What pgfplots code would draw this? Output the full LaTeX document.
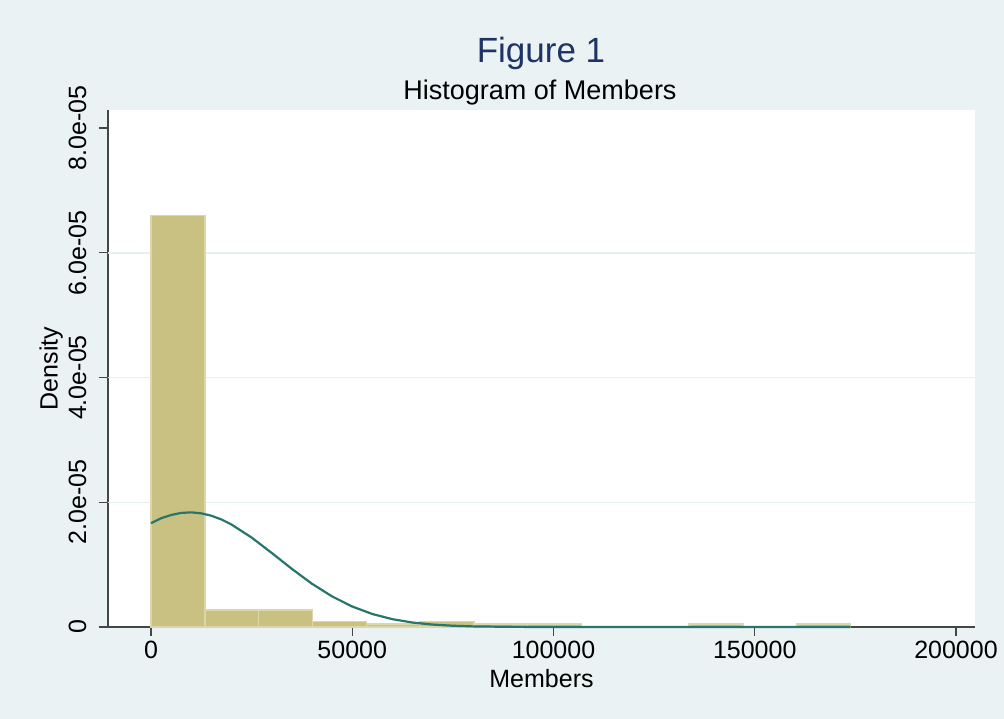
\documentclass[border=0pt]{standalone}
\usepackage{fontspec}
\setmainfont{Liberation Sans}
\usepackage{pgfplots}
\pgfplotsset{compat=1.18}
\definecolor{bgc}{RGB}{234,242,243}
\definecolor{barfill}{RGB}{200,193,130}
\definecolor{barline}{RGB}{220,215,170}
\definecolor{curvec}{RGB}{38,118,108}
\definecolor{titlec}{RGB}{30,52,100}
\definecolor{axc}{RGB}{70,70,70}
\definecolor{gridc}{RGB}{230,239,241}
\begin{document}
\begin{tikzpicture}
\fill[bgc] (-108pt,-92pt) rectangle (896pt,627pt);
\begin{axis}[
  scale only axis, width=867pt, height=517pt,
  xmin=-10683, xmax=204720, ymin=0, ymax=8.289e-5,
  axis background/.style={fill=white},
  axis lines*=left,
  axis line style={axc, line width=1.3pt},
  tick align=outside, major tick length=9pt,
  tick style={axc, line width=1.2pt},
  xtick={0,50000,100000,150000,200000},
  xticklabels={0,50000,100000,150000,200000},
  ytick={0,2e-5,4e-5,6e-5,8e-5},
  yticklabels={0,2.0e-05,4.0e-05,6.0e-05,8.0e-05},
  scaled x ticks=false, scaled y ticks=false,
  minor tick num=0,
  ticklabel style={font=\fontsize{25}{30}\selectfont},
  yticklabel style={rotate=90, anchor=south},
  yticklabel shift=9pt,
  xticklabel shift=2pt,
  major grid style={gridc, line width=1.5pt},
  extra y ticks={2e-5,4e-5,6e-5}, extra y tick labels={},
  extra y tick style={grid=major, major tick length=0pt},
  label style={font=\fontsize{25}{30}\selectfont},
  xlabel={Members}, ylabel={Density},
  xlabel style={at={(axis description cs:0.5,-0.1006)}, anchor=center},
  ylabel style={at={(axis description cs:-0.0655,0.5)}, anchor=center},
  clip=false,
]
\addplot[ybar, bar width=13370, bar shift=0pt, fill=barfill, draw=barline, line width=1.5pt] coordinates {
(6685,6.6e-5) (20055,2.7e-6) (33425,2.7e-6) (46795,9e-7) (60165,4.5e-7)
(73535,9e-7) (86905,4.5e-7) (100275,4.5e-7) (140385,4.5e-7) (167125,4.5e-7)};
\addplot[curvec, line width=2.2pt] coordinates {
(0,1.664e-5) (2500,1.743e-5) (5000,1.796e-5) (7500,1.829e-5) (10000,1.838e-5) (12500,1.822e-5)
(15000,1.784e-5) (17500,1.724e-5) (20000,1.643e-5) (25000,1.434e-5) (30000,1.187e-5)
(35000,9.32e-6) (40000,6.93e-6) (45000,4.90e-6) (50000,3.28e-6) (55000,2.08e-6)
(60000,1.25e-6) (65000,7.1e-7) (70000,3.9e-7) (75000,2.0e-7) (80000,9.7e-8)
(90000,2e-8) (100000,3e-9) (120000,0) (173840,0)};
\end{axis}
\node[font=\fontsize{35}{40}\selectfont, text=titlec, anchor=base] at (433pt,564pt) {Figure 1};
\node[font=\fontsize{27}{32}\selectfont, anchor=base] at (432pt,527pt) {Histogram of Members};
\pgfresetboundingbox
\useasboundingbox (-108pt,-92pt) rectangle (896pt,627pt);
\end{tikzpicture}
\end{document}
